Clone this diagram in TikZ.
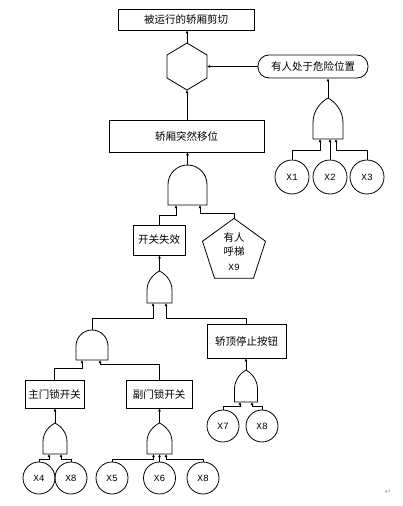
\documentclass[tikz,border=0pt]{standalone}
\usepackage{fontspec}
\newfontfamily\cjk{Noto Sans CJK SC}
\newfontfamily\monof{Liberation Mono}
\newfontfamily\djv{DejaVu Sans}
\usetikzlibrary{shapes.geometric,arrows.meta}
\tikzset{
  ln/.style={line width=0.8pt},
  box/.style={ln, draw, rectangle, inner sep=0pt, font=\cjk\fontsize{10.5}{12}\selectfont},
  evt/.style={ln, draw, circle, inner sep=0pt, minimum size=32pt, font=\monof\fontsize{9.5}{10}\selectfont},
  con/.style={ln, -{Latex[length=3pt,width=3pt]}},
  gate/.style={ln, draw},
}
\newcommand\ORgate[4]{% cx, top, bottom, halfwidth
  \pgfmathsetmacro\fgL{#1-#4}\pgfmathsetmacro\fgR{#1+#4}%
  \pgfmathsetmacro\fgM{#2+0.6*(#3-#2)}%
  \pgfmathsetmacro\fgC{#2+0.28*(#3-#2)}%
  \pgfmathsetmacro\fgD{#2+0.08*(#3-#2)}%
  \pgfmathsetmacro\fgA{#1-0.4*#4}\pgfmathsetmacro\fgB{#1+0.4*#4}%
  \draw[gate] (\fgL,#3) -- (\fgL,\fgM) .. controls (\fgL,\fgC) and (\fgA,\fgD) .. (#1,#2)
     .. controls (\fgB,\fgD) and (\fgR,\fgC) .. (\fgR,\fgM) -- (\fgR,#3) -- cycle;}
\newcommand\ANDgate[4]{% cx, top, bottom, halfwidth
  \pgfmathsetmacro\fgL{#1-#4}\pgfmathsetmacro\fgR{#1+#4}%
  \pgfmathsetmacro\fgM{#2+#4}%
  \pgfmathsetmacro\fgK{#2+#4-0.5523*#4}%
  \pgfmathsetmacro\fgA{#1-0.5523*#4}\pgfmathsetmacro\fgB{#1+0.5523*#4}%
  \draw[gate] (\fgL,#3) -- (\fgL,\fgM) .. controls (\fgL,\fgK) and (\fgA,#2) .. (#1,#2)
     .. controls (\fgB,#2) and (\fgR,\fgK) .. (\fgR,\fgM) -- (\fgR,#3) -- cycle;}
\begin{document}
\begin{tikzpicture}[x=1pt,y=-1pt]
\useasboundingbox (0,0) rectangle (402,506);
% event boxes
\node[box, minimum width=136pt, minimum height=21pt] (topbox) at (186,19.5) {被运行的轿厢剪切};
\node[box, minimum width=155pt, minimum height=32pt] (move) at (186.5,136) {轿厢突然移位};
\node[box, rounded corners=11pt, minimum width=110pt, minimum height=23pt] (danger) at (313,66.5) {有人处于危险位置};
\node[box, minimum width=52pt, minimum height=30pt] (switch) at (159,240) {开关失效};
\node[box, minimum width=79pt, minimum height=34pt] (topstop) at (246.5,341) {轿顶停止按钮};
\node[box, minimum width=59pt, minimum height=28pt] (mainl) at (54.5,394) {主门锁开关};
\node[box, minimum width=66pt, minimum height=28pt] (auxl) at (159,394) {副门锁开关};
\node[box, regular polygon, regular polygon sides=5, minimum size=59pt, align=center,
      font=\cjk\fontsize{10.5}{14.5}\selectfont] (call) at (234,251.5) {有人\\呼梯\\{\monof\fontsize{9.5}{10}\selectfont X9}};
% hexagon (inhibit gate)
\draw[gate] (187,43) coordinate (hexT) -- (207,55) -- (207,78) -- (187,90) coordinate (hexB) -- (167,78) -- (167,55) -- cycle;
\coordinate (hexR) at (207,66.5);
% basic events
\node[evt, minimum size=34pt] (X1) at (292,177) {X1};
\node[evt, minimum size=34pt] (X2) at (330,177) {X2};
\node[evt, minimum size=34pt] (X3) at (367,177) {X3};
\node[evt] (X4) at (39,478) {X4};
\node[evt] (X8a) at (71,478) {X8};
\node[evt] (X5) at (112,478) {X5};
\node[evt] (X6) at (159.5,478) {X6};
\node[evt] (X8b) at (203,478) {X8};
\node[evt] (X7) at (223,426) {X7};
\node[evt] (X8c) at (262,426) {X8};
% gates
\ORgate{328}{98}{139}{15}
\coordinate (orAt) at (328,98);
\coordinate (orA1) at (320,139); \coordinate (orA2) at (330,139); \coordinate (orA3) at (336,139);
\ANDgate{187.5}{165}{205}{19.5}
\coordinate (andBt) at (187.5,165);
\coordinate (andB1) at (176,205); \coordinate (andB2) at (200,205);
\ORgate{159.5}{271}{303}{12.5}
\coordinate (orCt) at (159.5,271);
\coordinate (orC1) at (153,303); \coordinate (orC2) at (166,303);
\ANDgate{92}{330}{360}{16}
\coordinate (andDt) at (92,330);
\coordinate (andD1) at (82,360); \coordinate (andD2) at (100,360);
\ORgate{55}{423}{454}{12}
\coordinate (orEt) at (55,423);
\coordinate (orE1) at (49,454); \coordinate (orE2) at (61,454);
\ORgate{159.5}{423}{454}{12.5}
\coordinate (orFt) at (159.5,423);
\coordinate (orF1) at (153.5,454); \coordinate (orF2) at (159.5,454); \coordinate (orF3) at (166,454);
\ORgate{246}{370}{402}{11.5}
\coordinate (orGt) at (246,370);
\coordinate (orG1) at (240,402); \coordinate (orG2) at (252,402);
% connectors
\draw[con] (hexT) -- (hexT |- topbox.south);
\draw[con] (danger.west) -- (hexR);
\draw[con] (hexB |- move.north) -- (hexB);
\draw[con] (orAt) -- (orAt |- danger.south);
\draw[con] (X1.north) |- ([yshift=-11pt]orA1) -- (orA1);
\draw[con] (X2.north) -- (orA2);
\draw[con] (X3.north) |- ([yshift=-11pt]orA3) -- (orA3);
\draw[con] (andBt) -- (andBt |- move.south);
\draw[con] (switch.north) |- ([yshift=-10pt]andB1) -- (andB1);
\draw[con] (call.corner 1) |- ([yshift=-8pt]andB2) -- (andB2);
\draw[con] (orCt) -- (orCt |- switch.south);
\draw[con] (andDt) |- ([yshift=-15pt]orC1) -- (orC1);
\draw[con] (topstop.north) |- ([yshift=-15pt]orC2) -- (orC2);
\draw[con] (mainl.north) |- ([yshift=-8pt]andD1) -- (andD1);
\draw[con] (auxl.north) |- ([yshift=-4pt]andD2) -- (andD2);
\draw[con] (orEt) -- (orEt |- mainl.south);
\draw[con] (X4.north) |- ([yshift=-5pt]orE1) -- (orE1);
\draw[con] (X8a.north) |- ([yshift=-5pt]orE2) -- (orE2);
\draw[con] (orFt) -- (orFt |- auxl.south);
\draw[con] (X5.north) |- ([yshift=-5pt]orF1) -- (orF1);
\draw[con] (X6.north) -- (orF2);
\draw[con] (X8b.north) |- ([yshift=-5pt]orF3) -- (orF3);
\draw[con] (orGt) -- (orGt |- topstop.south);
\draw[con] (X7.north) |- ([yshift=-4pt]orG1) -- (orG1);
\draw[con] (X8c.north) |- ([yshift=-4pt]orG2) -- (orG2);
% return mark
\node[font=\djv\fontsize{8}{8}\selectfont, text=gray!70, inner sep=0pt] (ret) at (388,492) {↵};
\end{tikzpicture}
\end{document}
